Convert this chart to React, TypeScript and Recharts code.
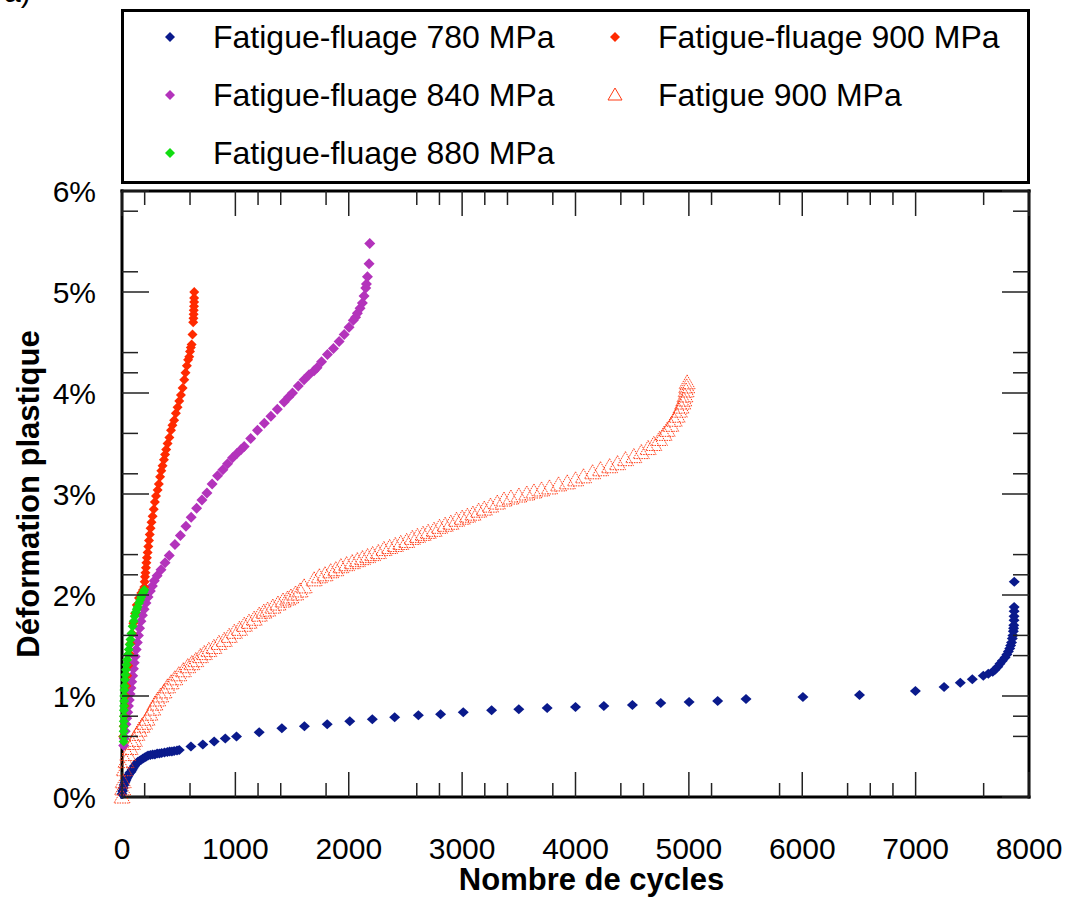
import React from "react";
import { ScatterChart, Scatter, XAxis, YAxis, Label } from "recharts";

const FONT = "'Liberation Sans', Arial, Helvetica, sans-serif";

// axis ticks (the original has irregular minor ticks)
const xMajor = [0, 1000, 2000, 3000, 4000, 5000, 6000, 7000, 8000];
const xMinor = [200, 600, 1200, 1400, 1800, 2600, 2800, 3200, 3400, 3800, 4400, 4600, 5200, 5800, 6400, 6600, 6800, 7600];
const yMajor = [0, 1, 2, 3, 4, 5, 6];
const yMinor = [0.6, 0.8, 1.4, 1.6, 2.2, 2.4, 3.2, 3.6, 4.2, 4.4, 5.2, 5.8];

// Fatigue-fluage 780 MPa
const cycles780 = [0, 5, 10, 18, 25, 33, 40, 50, 60, 70, 80, 90, 100, 112, 125, 140, 155, 170, 185, 200, 215, 230, 250, 270, 290, 310, 330, 350, 375, 400, 420, 440, 460, 485, 505, 608, 713, 813, 911, 1010, 1210, 1410, 1609, 1810, 2009, 2208, 2405, 2614, 2810, 3010, 3260, 3500, 3750, 4000, 4250, 4502, 4752, 5002, 5254, 5504, 6006, 6505, 6998, 7251, 7394, 7500, 7597, 7641, 7680, 7700, 7725, 7744, 7765, 7789, 7805, 7818, 7830, 7838, 7846, 7853, 7858, 7862, 7864, 7866, 7868, 7868, 7869, 7869, 7870];
const strain780 = [0.03, 0.06, 0.09, 0.12, 0.14, 0.16, 0.18, 0.2, 0.22, 0.24, 0.25, 0.27, 0.29, 0.31, 0.33, 0.35, 0.36, 0.37, 0.38, 0.39, 0.4, 0.41, 0.415, 0.42, 0.42, 0.43, 0.43, 0.435, 0.44, 0.445, 0.45, 0.45, 0.455, 0.46, 0.465, 0.5, 0.52, 0.55, 0.58, 0.6, 0.64, 0.68, 0.7, 0.72, 0.75, 0.77, 0.79, 0.81, 0.82, 0.84, 0.86, 0.87, 0.88, 0.89, 0.9, 0.91, 0.93, 0.94, 0.95, 0.97, 0.99, 1.01, 1.05, 1.09, 1.13, 1.165, 1.2, 1.22, 1.24, 1.26, 1.29, 1.32, 1.35, 1.38, 1.41, 1.44, 1.47, 1.5, 1.53, 1.57, 1.6, 1.64, 1.67, 1.7, 1.75, 1.79, 1.84, 1.88, 2.13];

// Fatigue-fluage 840 MPa
const cycles840 = [15, 20, 28, 35, 42, 50, 57, 64, 71, 79, 86, 94, 101, 108, 116, 125, 135, 145, 155, 167, 180, 195, 211, 230, 250, 268, 285, 310, 344, 380, 417, 467, 515, 564, 610, 658, 705, 749, 795, 843, 890, 931, 975, 1013, 1050, 1078, 1135, 1195, 1255, 1313, 1370, 1430, 1470, 1504, 1555, 1606, 1650, 1694, 1720, 1760, 1812, 1865, 1915, 1960, 2003, 2040, 2060, 2076, 2100, 2120, 2135, 2150, 2156, 2165, 2179, 2185];
const strain840 = [0.51, 0.58, 0.65, 0.72, 0.78, 0.84, 0.9, 0.96, 1.02, 1.08, 1.14, 1.2, 1.27, 1.33, 1.39, 1.46, 1.53, 1.6, 1.67, 1.74, 1.8, 1.86, 1.92, 1.98, 2.04, 2.09, 2.14, 2.19, 2.25, 2.32, 2.39, 2.5, 2.59, 2.68, 2.77, 2.86, 2.94, 3.01, 3.1, 3.18, 3.24, 3.3, 3.36, 3.4, 3.44, 3.47, 3.55, 3.63, 3.7, 3.77, 3.84, 3.91, 3.96, 4.0, 4.07, 4.13, 4.18, 4.22, 4.25, 4.31, 4.38, 4.44, 4.51, 4.58, 4.65, 4.72, 4.75, 4.79, 4.84, 4.89, 4.96, 5.04, 5.08, 5.15, 5.28, 5.48];

// Fatigue-fluage 880 MPa
const cycles880 = [15, 15, 15, 16, 16, 17, 17, 18, 19, 20, 21, 23, 26, 30, 35, 40, 46, 53, 60, 68, 75, 84, 94, 103, 112, 122, 130, 138, 150, 160, 170, 180, 190, 197];
const strain880 = [0.55, 0.6, 0.65, 0.7, 0.75, 0.8, 0.86, 0.9, 0.95, 1.0, 1.06, 1.1, 1.16, 1.21, 1.26, 1.31, 1.36, 1.41, 1.46, 1.51, 1.56, 1.62, 1.69, 1.74, 1.79, 1.83, 1.86, 1.88, 1.92, 1.95, 1.98, 2.01, 2.03, 2.05];

// Fatigue-fluage 900 MPa
const cycles900ff = [10, 15, 20, 25, 30, 38, 45, 55, 65, 75, 88, 100, 115, 130, 150, 170, 185, 197, 200, 203, 207, 211, 215, 220, 226, 232, 238, 245, 252, 260, 270, 280, 290, 300, 314, 325, 336, 347, 358, 370, 380, 390, 402, 418, 432, 445, 460, 475, 490, 505, 520, 535, 549, 560, 572, 583, 593, 600, 607, 614, 622, 628, 630, 632, 633, 635, 636, 636, 637];
const strain900ff = [0.6, 0.7, 0.8, 0.9, 1.0, 1.1, 1.2, 1.3, 1.42, 1.52, 1.62, 1.72, 1.82, 1.9, 1.97, 2.02, 2.05, 2.08, 2.13, 2.18, 2.22, 2.27, 2.32, 2.37, 2.42, 2.48, 2.54, 2.6, 2.66, 2.72, 2.78, 2.85, 2.92, 2.98, 3.04, 3.1, 3.17, 3.23, 3.28, 3.34, 3.39, 3.44, 3.5, 3.56, 3.63, 3.68, 3.73, 3.8, 3.86, 3.92, 3.98, 4.05, 4.13, 4.2, 4.27, 4.33, 4.36, 4.41, 4.45, 4.48, 4.58, 4.7, 4.74, 4.78, 4.82, 4.86, 4.9, 4.94, 5.0];

// Fatigue 900 MPa
const cycles900f = [0, 5, 10, 20, 35, 50, 70, 90, 108, 130, 150, 175, 197, 220, 245, 270, 290, 314, 340, 370, 400, 432, 465, 500, 540, 579, 615, 650, 690, 725, 765, 810, 855, 901, 945, 990, 1035, 1078, 1120, 1165, 1210, 1250, 1284, 1330, 1375, 1420, 1460, 1489, 1530, 1570, 1606, 1694, 1740, 1790, 1840, 1885, 1930, 1980, 2030, 2075, 2120, 2165, 2210, 2260, 2310, 2360, 2410, 2458, 2510, 2560, 2605, 2655, 2700, 2752, 2800, 2850, 2900, 2950, 3000, 3046, 3095, 3145, 3195, 3250, 3310, 3369, 3430, 3500, 3570, 3633, 3700, 3770, 3850, 3927, 4000, 4070, 4150, 4220, 4300, 4370, 4440, 4514, 4580, 4640, 4690, 4740, 4780, 4808, 4840, 4870, 4896, 4915, 4930, 4945, 4955, 4965, 4975, 4980, 4984];
const strain900f = [0.0, 0.08, 0.15, 0.27, 0.35, 0.42, 0.48, 0.53, 0.56, 0.62, 0.66, 0.7, 0.73, 0.77, 0.82, 0.87, 0.92, 0.96, 1.0, 1.04, 1.09, 1.13, 1.17, 1.21, 1.25, 1.29, 1.32, 1.35, 1.39, 1.42, 1.45, 1.48, 1.52, 1.55, 1.59, 1.63, 1.66, 1.7, 1.73, 1.76, 1.8, 1.83, 1.85, 1.88, 1.91, 1.94, 1.96, 1.98, 2.01, 2.04, 2.08, 2.15, 2.18, 2.2, 2.23, 2.25, 2.28, 2.3, 2.32, 2.34, 2.36, 2.38, 2.4, 2.42, 2.45, 2.47, 2.49, 2.51, 2.53, 2.56, 2.58, 2.6, 2.62, 2.64, 2.67, 2.69, 2.71, 2.74, 2.76, 2.78, 2.8, 2.83, 2.85, 2.88, 2.91, 2.94, 2.96, 2.98, 3.0, 3.02, 3.04, 3.06, 3.09, 3.11, 3.14, 3.17, 3.21, 3.24, 3.27, 3.3, 3.34, 3.37, 3.41, 3.45, 3.49, 3.54, 3.59, 3.63, 3.68, 3.73, 3.77, 3.82, 3.86, 3.9, 3.93, 3.97, 4.02, 4.06, 4.1];

const BLUE = "#0a1a8c";
const MAGENTA = "#b333bb";
const GREEN = "#11dd11";
const RED = "#ff2a00";
const ORANGE = "#ff3a14";

const toPoints = (xs: number[], ys: number[]) => xs.map((x, i) => ({ x, y: ys[i] }));

const diamond = (fill: string, rx: number, ry: number) => (p: any) => {
  const { cx, cy } = p;
  if (cx == null || cy == null) return <g />;
  return (
    <polygon
      points={`${cx},${cy - ry} ${cx + rx},${cy} ${cx},${cy + ry} ${cx - rx},${cy}`}
      fill={fill}
    />
  );
};

const triangle = (p: any) => {
  const { cx, cy } = p;
  if (cx == null || cy == null) return <g />;
  return (
    <polygon
      points={`${cx},${cy - 8} ${cx + 8},${cy + 6} ${cx - 8},${cy + 6}`}
      fill="none"
      stroke={ORANGE}
      strokeWidth={1}
      strokeDasharray="1.5 1"
    />
  );
};

const nothing = () => <g />;

const TICK = "#222";

const BottomTick = (props: any) => {
  const { x, y, payload } = props;
  const major = payload.value % 1000 === 0;
  return (
    <g>
      <line x1={x} y1={y} x2={x} y2={y - (major ? 25 : 14)} stroke={TICK} strokeWidth={1.5} />
      {major && (
        <text x={x} y={y + 62} textAnchor="middle" fontSize={30} fontFamily={FONT} fill="#000">
          {payload.value}
        </text>
      )}
    </g>
  );
};

const TopTick = (props: any) => {
  const { x, y, payload } = props;
  const major = payload.value % 1000 === 0;
  return <line x1={x} y1={y} x2={x} y2={y + (major ? 25 : 14)} stroke={TICK} strokeWidth={1.5} />;
};

const LeftTick = (props: any) => {
  const { x, y, payload } = props;
  const major = Number.isInteger(payload.value);
  return (
    <g>
      <line x1={x} y1={y} x2={x + (major ? 27 : 16)} y2={y} stroke={TICK} strokeWidth={1.5} />
      {major && (
        <text x={x - 26} y={y + 11} textAnchor="end" fontSize={30} fontFamily={FONT} fill="#000">
          {payload.value}%
        </text>
      )}
    </g>
  );
};

const RightTick = (props: any) => {
  const { x, y, payload } = props;
  const major = Number.isInteger(payload.value);
  return <line x1={x} y1={y} x2={x - (major ? 27 : 16)} y2={y} stroke={TICK} strokeWidth={1.5} />;
};

const xTitle = (props: any) => {
  const { x, y, width } = props.viewBox;
  return (
    <text x={x + width / 2 + 16} y={y + 93} textAnchor="middle" fontSize={31} fontWeight="bold" fontFamily={FONT} fill="#000">
      Nombre de cycles
    </text>
  );
};

const yTitle = (props: any) => {
  const { y, height } = props.viewBox;
  const cy = y + height / 2;
  return (
    <text x={0} y={0} transform={`translate(39, ${cy}) rotate(-90)`} textAnchor="middle" fontSize={31} fontWeight="bold" fontFamily={FONT} fill="#000">
      Déformation plastique
    </text>
  );
};

const legendNames = [
  "Fatigue-fluage 780 MPa",
  "Fatigue-fluage 840 MPa",
  "Fatigue-fluage 880 MPa",
  "Fatigue-fluage 900 MPa",
  "Fatigue 900 MPa",
];
const legendColors = [BLUE, MAGENTA, GREEN, RED, ORANGE];

function LegendBox() {
  return (
    <div
      style={{
        position: "absolute",
        left: 121,
        top: 9,
        width: 909,
        height: 175,
        boxSizing: "border-box",
        border: "3px solid #000",
        background: "#fff",
        fontFamily: FONT,
        fontSize: 32,
      }}
    >
      {legendNames.map((name, i) => {
        const col = i < 3 ? 0 : 1;
        const row = i < 3 ? i : i - 3;
        const isTri = i === 4;
        return (
          <div
            key={name}
            style={{
              position: "absolute",
              left: 36 + col * 445,
              top: row * 58 - 4,
              height: 58,
              display: "flex",
              alignItems: "center",
              whiteSpace: "nowrap",
            }}
          >
            <svg width={20} height={20} style={{ marginRight: 33 }}>
              {isTri ? (
                <polygon points="10,3 17,15 3,15" fill="none" stroke={ORANGE} strokeWidth={1} />
              ) : (
                <polygon points="10,5 15,10 10,15 5,10" fill={legendColors[i]} />
              )}
            </svg>
            <span>{name}</span>
          </div>
        );
      })}
    </div>
  );
}

export default function App() {
  const d780 = toPoints(cycles780, strain780);
  const d840 = toPoints(cycles840, strain840);
  const d880 = toPoints(cycles880, strain880);
  const d900ff = toPoints(cycles900ff, strain900ff);
  const d900f = toPoints(cycles900f, strain900f);
  const xTicks = [...xMajor, ...xMinor].sort((a, b) => a - b);
  const yTicks = [...yMajor, ...yMinor].sort((a, b) => a - b);
  const axisLine = { stroke: "#000", strokeWidth: 3, strokeLinecap: "square" as const };

  return (
    <div style={{ position: "absolute", left: 0, top: 0, width: 1071, height: 897, background: "#fff", overflow: "hidden" }}>
      <svg width={60} height={10} style={{ position: "absolute", left: 0, top: 0 }}>
        <text x={4} y={2} fontSize={30} fontFamily={FONT} fill="#000">a)</text>
      </svg>
      <ScatterChart width={1071} height={897} margin={{ top: 190, right: 41, bottom: 0, left: 0 }}>
        <XAxis
          xAxisId="x"
          dataKey="x"
          type="number"
          domain={[0, 8000]}
          ticks={xTicks}
          interval={0}
          height={100}
          tickSize={0}
          tickMargin={0}
          tickLine={false}
          tick={<BottomTick />}
          axisLine={axisLine}
        >
          <Label content={xTitle} />
        </XAxis>
        <XAxis
          xAxisId="top"
          dataKey="x"
          orientation="top"
          type="number"
          domain={[0, 8000]}
          ticks={xTicks}
          interval={0}
          height={1}
          tickSize={0}
          tickMargin={0}
          tickLine={false}
          tick={<TopTick />}
          axisLine={axisLine}
        />
        <YAxis
          yAxisId="y"
          dataKey="y"
          type="number"
          domain={[0, 6]}
          ticks={yTicks}
          interval={0}
          width={122}
          tickSize={0}
          tickMargin={0}
          tickLine={false}
          tick={<LeftTick />}
          axisLine={axisLine}
        >
          <Label content={yTitle} />
        </YAxis>
        <YAxis
          yAxisId="right"
          dataKey="y"
          orientation="right"
          type="number"
          domain={[0, 6]}
          ticks={yTicks}
          interval={0}
          width={1}
          tickSize={0}
          tickMargin={0}
          tickLine={false}
          tick={<RightTick />}
          axisLine={axisLine}
        />
        {/* invisible series so the top and right frame axes get their scales */}
        <Scatter data={d780} xAxisId="top" yAxisId="right" shape={nothing} isAnimationActive={false} />
        <Scatter data={d780} xAxisId="x" yAxisId="y" shape={diamond(BLUE, 5.5, 5)} isAnimationActive={false} />
        <Scatter data={d900f} xAxisId="x" yAxisId="y" shape={triangle} isAnimationActive={false} />
        <Scatter data={d840} xAxisId="x" yAxisId="y" shape={diamond(MAGENTA, 5.5, 5.5)} isAnimationActive={false} />
        <Scatter data={d900ff} xAxisId="x" yAxisId="y" shape={diamond(RED, 5, 5)} isAnimationActive={false} />
        <Scatter data={d880} xAxisId="x" yAxisId="y" shape={diamond(GREEN, 5, 5)} isAnimationActive={false} />
      </ScatterChart>
      <LegendBox />
    </div>
  );
}
